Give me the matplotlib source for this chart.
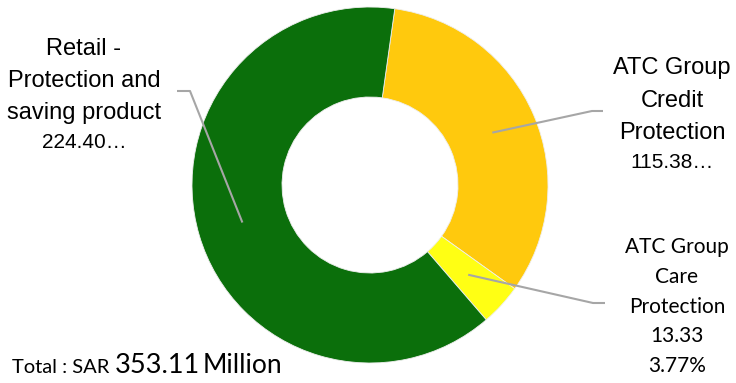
import numpy as np
import matplotlib
matplotlib.use("Agg")
import matplotlib.pyplot as plt

# ---- data ----
categories = ["ATC Group Credit Protection", "ATC Group Care Protection",
              "Retail - Protection and saving product"]
values = [115.38, 13.33, 224.40]
colors = ["#FFC90D", "#FFFF14", "#0B6F0B"]
total_value = 353.11
care_pct = "3.77%"

W, H = 736, 383
fig = plt.figure(figsize=(W / 100, H / 100), dpi=100)
ax = fig.add_axes([0, 0, 1, 1])
ax.set_xlim(0, W)
ax.set_ylim(0, H)
ax.set_aspect("equal")
ax.axis("off")


def P(x, y):
    return (x, H - y)


cx, cy = P(370, 185)
R_out, R_in = 178, 88
start = 82

wedges, _ = ax.pie(values, colors=colors, startangle=start, counterclock=False,
                   radius=R_out, center=(cx, cy),
                   wedgeprops=dict(width=R_out - R_in, edgecolor="#eeeeee", linewidth=0.6))
ax.set_xlim(0, W)
ax.set_ylim(0, H)
ax.set_aspect("equal")

# mid angles of wedges
tot = sum(values)
mids = []
a = start
for v in values:
    span = v / tot * 360
    mids.append(a - span / 2)
    a -= span
r_mid = (R_out + R_in) / 2


def mid_point(i):
    t = np.deg2rad(mids[i])
    return (cx + r_mid * np.cos(t), cy + r_mid * np.sin(t))


line_kw = dict(color="#A6A6A6", lw=1.5, solid_capstyle="butt", zorder=5)

# leader lines
p = mid_point(2)
e1, e2 = P(190, 91), P(177, 91)
ax.plot([p[0], e1[0], e2[0]], [p[1], e1[1], e2[1]], **line_kw)
p = mid_point(0)
e1, e2 = P(592, 111), P(603, 111)
ax.plot([p[0], e1[0], e2[0]], [p[1], e1[1], e2[1]], **line_kw)
p = mid_point(1)
e1, e2 = P(593, 303), P(605, 303)
ax.plot([p[0], e1[0], e2[0]], [p[1], e1[1], e2[1]], **line_kw)

arial = "Liberation Sans"
cal = "Lato"

# left label
for txt, y, fs in [("Retail -", 55, 17), ("Protection and", 87, 17),
                   ("saving product", 119, 17), (f"{values[2]:.2f}…", 148, 15)]:
    ax.text(*P(84, y), txt, ha="center", va="baseline", fontsize=fs,
            family=arial, color="black")

# right top label
for txt, y, fs in [("ATC Group", 74, 17), ("Credit", 107, 17),
                   ("Protection", 139, 17), (f"{values[0]:.2f}…", 168, 15)]:
    ax.text(*P(672, y), txt, ha="center", va="baseline", fontsize=fs,
            family=arial, color="black")

# right bottom label
for txt, y in [("ATC Group", 253), ("Care", 283), ("Protection", 313),
               (f"{values[1]:.2f}", 342), (care_pct, 372)]:
    ax.text(*P(677, y), txt, ha="center", va="baseline", fontsize=15,
            family=cal, color="black")

# total
ax.text(*P(12, 373), "Total : SAR", ha="left", va="baseline", fontsize=14.5,
        family=cal, color="black")
ax.text(*P(115, 373), f"{total_value:.2f}", ha="left", va="baseline", fontsize=19.5,
        family=cal, color="black")
ax.text(*P(203, 373), "Million", ha="left", va="baseline", fontsize=19,
        family=cal, color="black")

fig.savefig("out.png", dpi=100)
